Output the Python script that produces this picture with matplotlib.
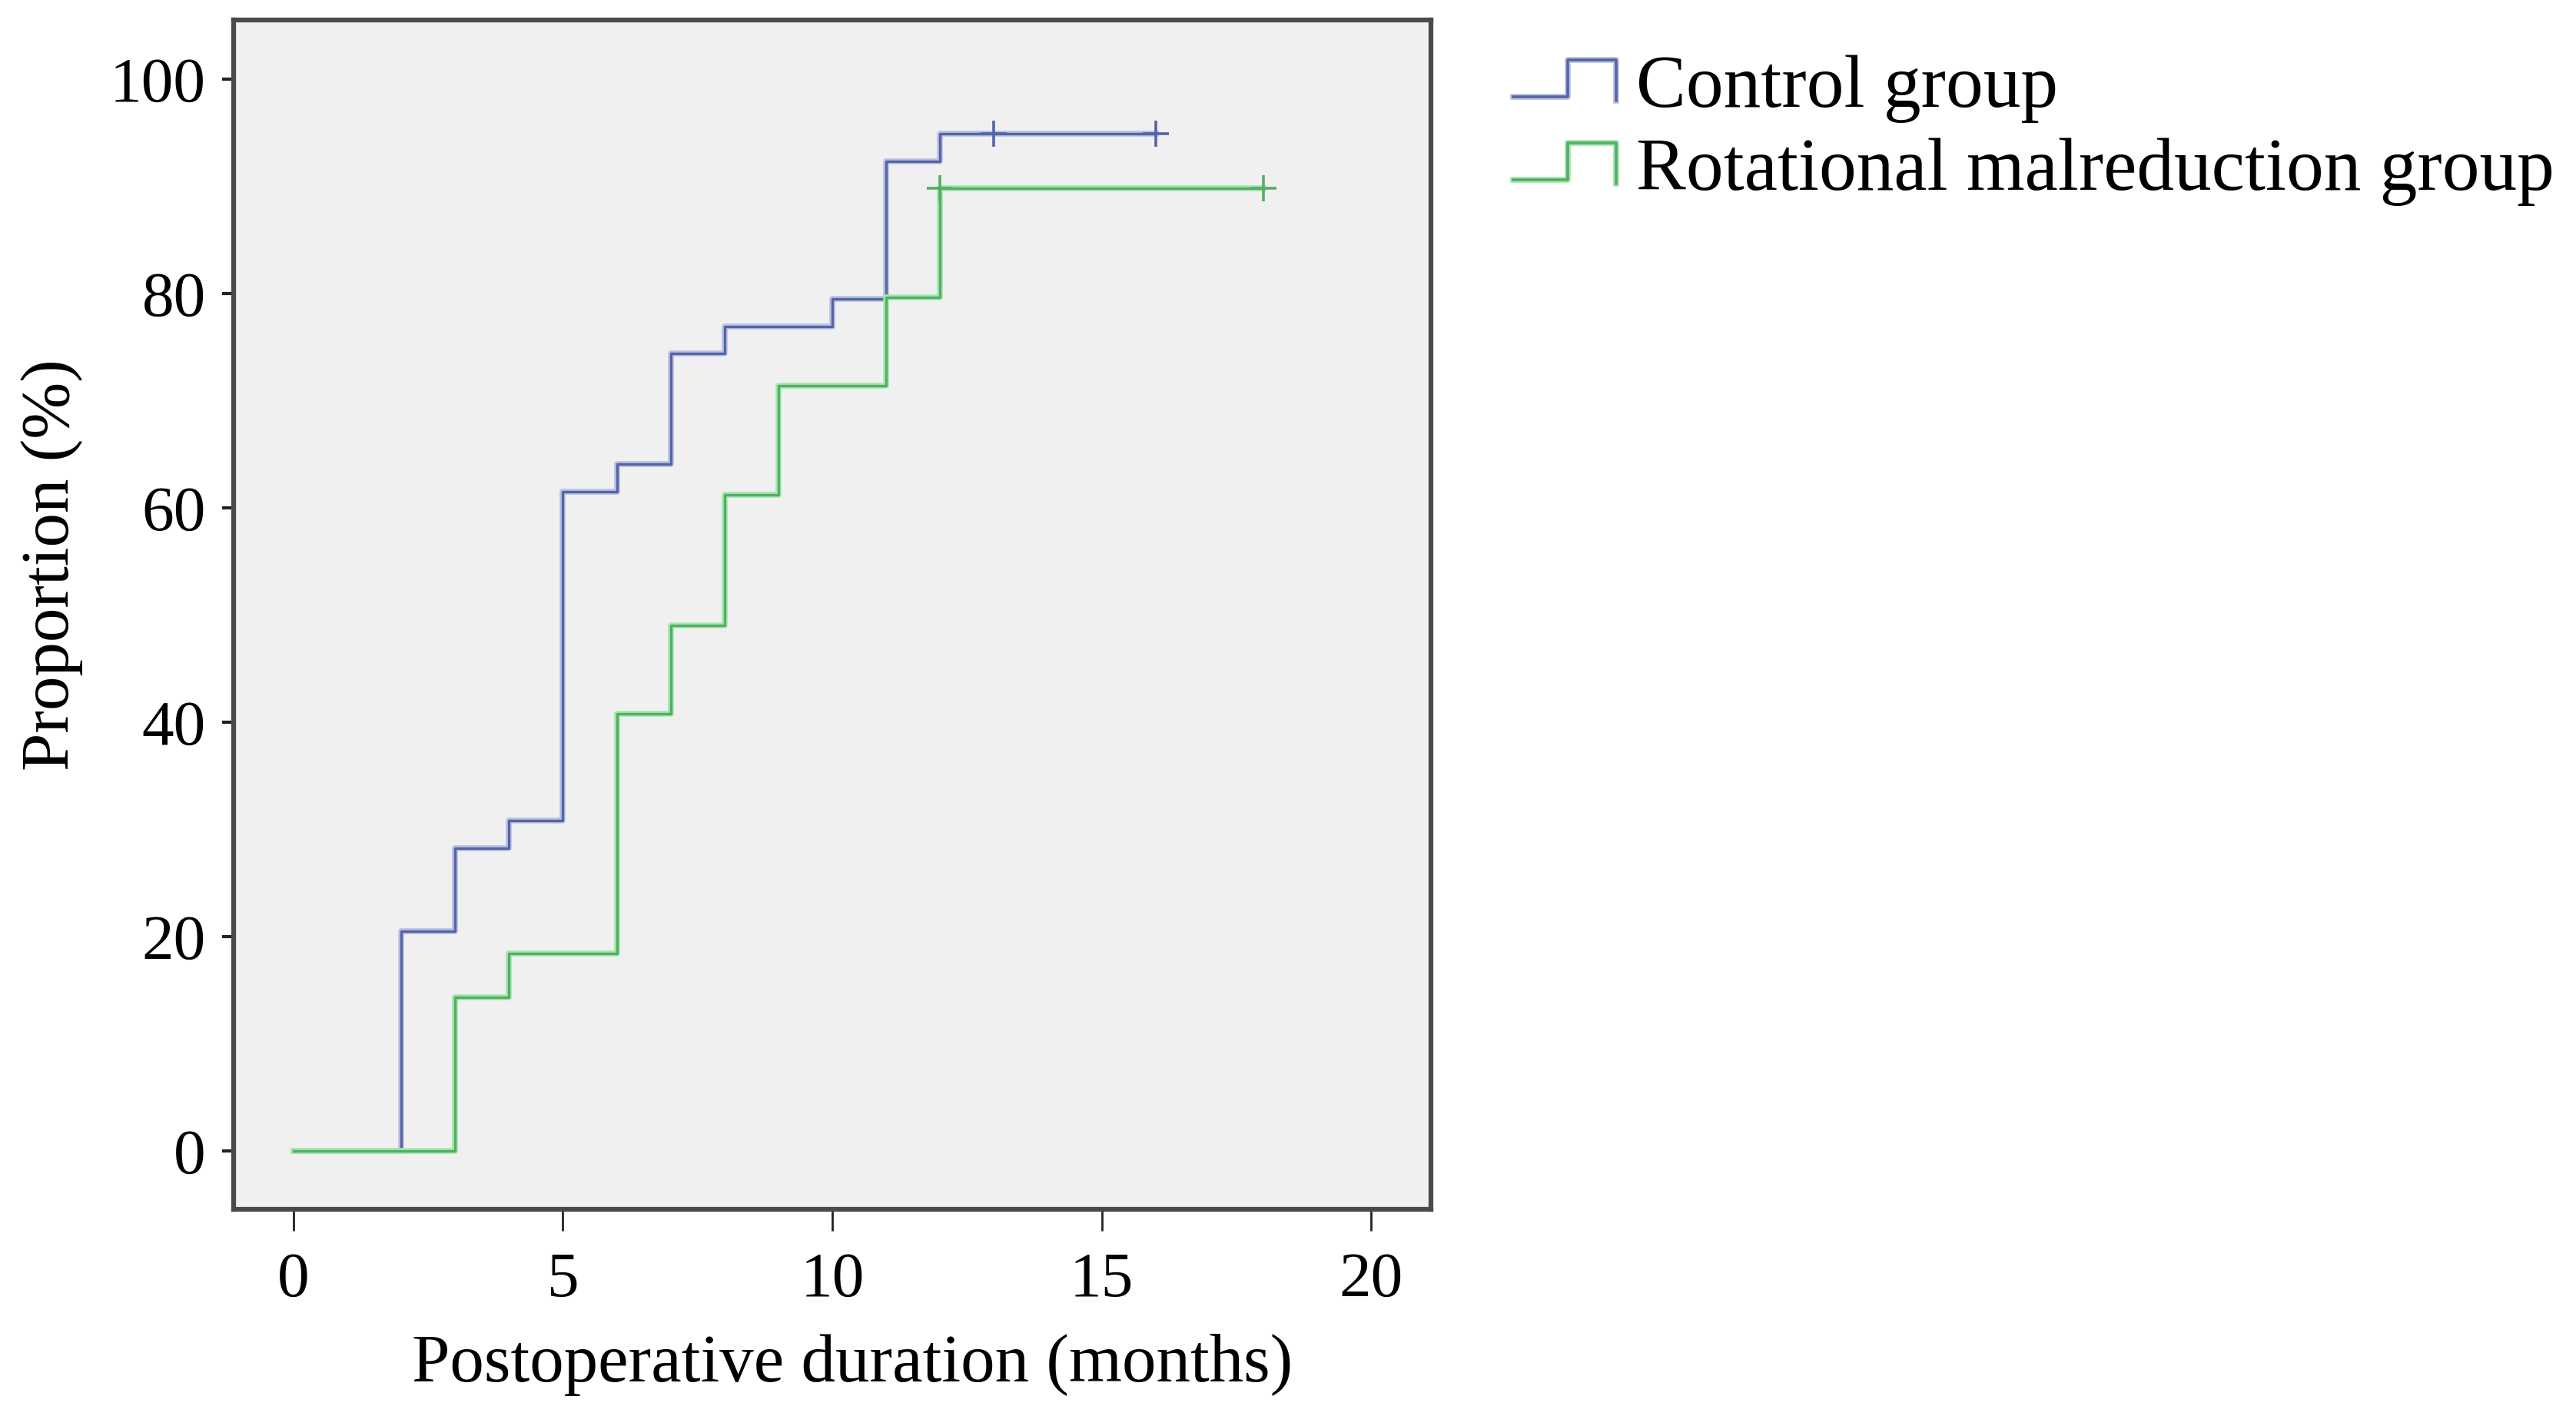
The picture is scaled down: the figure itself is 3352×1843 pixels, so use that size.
import matplotlib
matplotlib.use("Agg")
import matplotlib.pyplot as plt
import matplotlib.patheffects as pe
from matplotlib.legend_handler import HandlerBase
from matplotlib.lines import Line2D

# cumulative proportion (%) by postoperative month
control_t = [0, 2, 3, 4, 5, 6, 7, 8, 10, 11, 12, 16]
control_p = [0, 20.5, 28.2, 30.8, 61.5, 64.1, 74.4, 76.9, 79.5, 92.3, 94.9, 94.9]
control_cens_t = [13, 16]
control_cens_p = [94.9, 94.9]

rot_t = [0, 3, 4, 6, 7, 8, 9, 11, 12, 18]
rot_p = [0, 14.3, 18.4, 40.8, 49.0, 61.2, 71.4, 79.6, 89.8, 89.8]
rot_cens_t = [12, 18]
rot_cens_p = [89.8, 89.8]

labels = ["Control group", "Rotational malreduction group"]
x_ticks = [0, 5, 10, 15, 20]
y_ticks = [0, 20, 40, 60, 80, 100]

BLUE = "#5564a6"
BLUE_HALO = "#b9c1e3"
GREEN = "#55ad66"
GREEN_HALO = "#a3e8ad"

plt.rcParams["font.family"] = ["Liberation Serif", "DejaVu Serif"]


class StepHandler(HandlerBase):
    def __init__(self, color, halo):
        super().__init__()
        self.color = color
        self.halo = halo

    def create_artists(self, legend, orig_handle, xdescent, ydescent,
                       width, height, fontsize, trans):
        x0, y0 = -xdescent, -ydescent
        xs = [x0, x0 + 0.53 * width, x0 + 0.53 * width, x0 + width, x0 + width]
        ys = [y0 + 0.1 * height, y0 + 0.1 * height, y0 + height, y0 + height, y0]
        ln = Line2D(xs, ys, color=self.color, lw=2.6, transform=trans,
                    path_effects=[pe.Stroke(linewidth=5.5, foreground=self.halo),
                                  pe.Normal()])
        return [ln]


fig = plt.figure(figsize=(33.52, 18.43), dpi=100)
ax = fig.add_axes([0.0907, 0.146, 0.4648, 0.8399])
ax.set_facecolor("#f0f0f0")

h1, = ax.step(control_t, control_p, where="post", color=BLUE, lw=2.4,
              path_effects=[pe.Stroke(linewidth=5.5, foreground=BLUE_HALO), pe.Normal()])
h2, = ax.step(rot_t, rot_p, where="post", color=GREEN, lw=2.4,
              path_effects=[pe.Stroke(linewidth=5.5, foreground=GREEN_HALO), pe.Normal()])
ax.plot(control_cens_t, control_cens_p, ls="none", marker="+", ms=24, mew=2.6,
        color=BLUE)
ax.plot(rot_cens_t, rot_cens_p, ls="none", marker="+", ms=24, mew=2.6,
        color=GREEN)

ax.set_xlim(-1.11, 21.11)
ax.set_ylim(-5.45, 105.5)
ax.set_xticks(x_ticks)
ax.set_yticks(y_ticks)

for s in ax.spines.values():
    s.set_linewidth(4.5)
    s.set_color("#4a4a4a")

ax.tick_params(axis="x", length=20, width=2, color="#222222", pad=20,
               labelsize=60)
ax.tick_params(axis="y", length=11, width=3, color="#222222", pad=15,
               labelsize=60)

ax.set_xlabel("Postoperative duration (months)", fontsize=64, va="baseline")
ax.xaxis.set_label_coords(0.517, -0.1447)
ax.set_ylabel("Proportion (%)", fontsize=64, va="center")
ax.yaxis.set_label_coords(-0.152, 0.542)

fig.legend([h1, h2], labels, loc="upper left",
           bbox_to_anchor=(1969 / 3352, 1 - 72 / 1843),
           frameon=False, fontsize=70, handlelength=1.38, handleheight=0.46,
           handletextpad=0.27, labelspacing=0.2, borderpad=0, borderaxespad=0,
           handler_map={h1: StepHandler(BLUE, BLUE_HALO),
                        h2: StepHandler(GREEN, GREEN_HALO)})

fig.savefig("out.png", dpi=100)
